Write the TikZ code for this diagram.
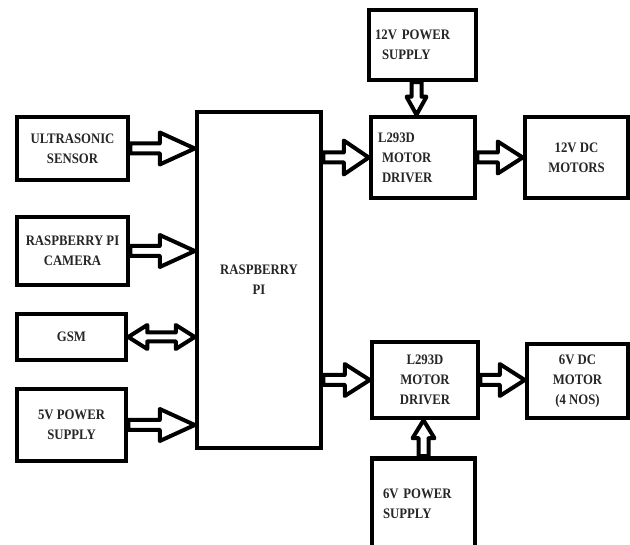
\documentclass[tikz,border=0pt]{standalone}
\usepackage{fontspec}
\setmainfont{Liberation Serif}[FakeStretch=0.88]
\usetikzlibrary{calc}

\begin{document}
\begin{tikzpicture}
    [x=1pt, y=-1pt,
    block/.style={draw, line width=4.5pt, inner sep=0pt, align=center, text=black!85,
      font=\fontsize{14.5}{20}\selectfont\bfseries},
    % hollow block arrow, #1 = head length, #2 = half width of head
    blk/.style n args={2}{line width=4pt, line join=round, to path={
      ($(\tikztotarget)!#1!(\tikztostart)$) coordinate (h)
      ($(\tikztostart)!5pt!90:(\tikztotarget)$) -- ($(h)!5pt!-90:(\tikztostart)$)
      -- ($(h)!#2!-90:(\tikztostart)$) -- (\tikztotarget) -- ($(h)!#2!90:(\tikztostart)$)
      -- ($(h)!5pt!90:(\tikztostart)$) -- ($(\tikztostart)!5pt!-90:(\tikztotarget)$) -- cycle}},
    % same, heads at both ends
    blkk/.style={line width=4pt, line join=round, to path={
      ($(\tikztotarget)!#1!(\tikztostart)$) coordinate (h)
      ($(\tikztostart)!#1!(\tikztotarget)$) coordinate (g)
      (\tikztostart) -- ($(g)!12pt!90:(\tikztotarget)$) -- ($(g)!4.5pt!90:(\tikztotarget)$)
      -- ($(h)!4.5pt!-90:(\tikztostart)$) -- ($(h)!12pt!-90:(\tikztostart)$) -- (\tikztotarget)
      -- ($(h)!12pt!90:(\tikztostart)$) -- ($(h)!4.5pt!90:(\tikztostart)$)
      -- ($(g)!4.5pt!-90:(\tikztotarget)$) -- ($(g)!12pt!-90:(\tikztotarget)$) -- cycle}}]
    \useasboundingbox (0,0) rectangle (630,545);

    %% controller
    \node[block, minimum width=124pt, minimum height=336pt] (pi) at (259,280) {RASPBERRY\\PI};

    %% inputs
    \node[block, minimum width=111pt, minimum height=63pt] (us) at (72.5,148.5) {ULTRASONIC\\SENSOR};
    \node[block, minimum width=111pt, minimum height=68pt] (cam) at (72.5,251) {RASPBERRY PI\\CAMERA};
    \node[block, minimum width=109pt, minimum height=46pt] (gsm) at (71.5,337) {GSM};
    \node[block, minimum width=109pt, minimum height=72pt] (ps5) at (71.5,425) {5V POWER\\SUPPLY};

    %% drivers and motors
    \node[block, minimum width=107pt, minimum height=70pt, align=left, text width=95pt] (ps12) at (422.5,45) {12V POWER\\\hspace*{7pt}SUPPLY};
    \node[block, minimum width=104pt, minimum height=81pt, align=left, text width=90pt] (drv1) at (423,157.5) {L293D\\\hspace*{4pt}MOTOR\\\hspace*{4pt}DRIVER};
    \node[block, minimum width=103pt, minimum height=81pt] (mot1) at (576.5,157.5) {12V DC\\MOTORS};
    \node[block, minimum width=106pt, minimum height=76pt] (drv2) at (425,380) {L293D\\MOTOR\\DRIVER};
    \node[block, minimum width=101pt, minimum height=74pt] (mot2) at (577.5,381) {6V DC\\MOTOR\\(4 NOS)};
    \node[block, minimum width=103pt, minimum height=90pt, align=left, text width=81pt] (ps6) at (423.5,503.5) {6V POWER\\SUPPLY};

    %% links
    \draw[blk={35pt}{16pt}] (us.east) to (us.east -| pi.west);
    \draw[blk={35pt}{16pt}] (cam.east) to (cam.east -| pi.west);
    \draw[blkk=19pt] (gsm.east) to (gsm.east -| pi.west);
    \draw[blk={35pt}{16pt}] (ps5.east) to (ps5.east -| pi.west);
    \draw[blk={25pt}{17pt}] (drv1.west -| pi.east) to (drv1.west);
    \draw[blk={25pt}{16pt}] (drv1.east) to (drv1.east -| mot1.west);
    \draw[blk={18pt}{10pt}] ([xshift=-6pt]ps12.south) to ([xshift=-6pt]ps12.south |- drv1.north);
    \draw[blk={25pt}{16pt}] (drv2.west -| pi.east) to (drv2.west);
    \draw[blk={25pt}{16pt}] (drv2.east) to (drv2.east -| mot2.west);
    \draw[blk={18pt}{11pt}] (ps6.north) to (ps6.north |- drv2.south);
\end{tikzpicture}
\end{document}
